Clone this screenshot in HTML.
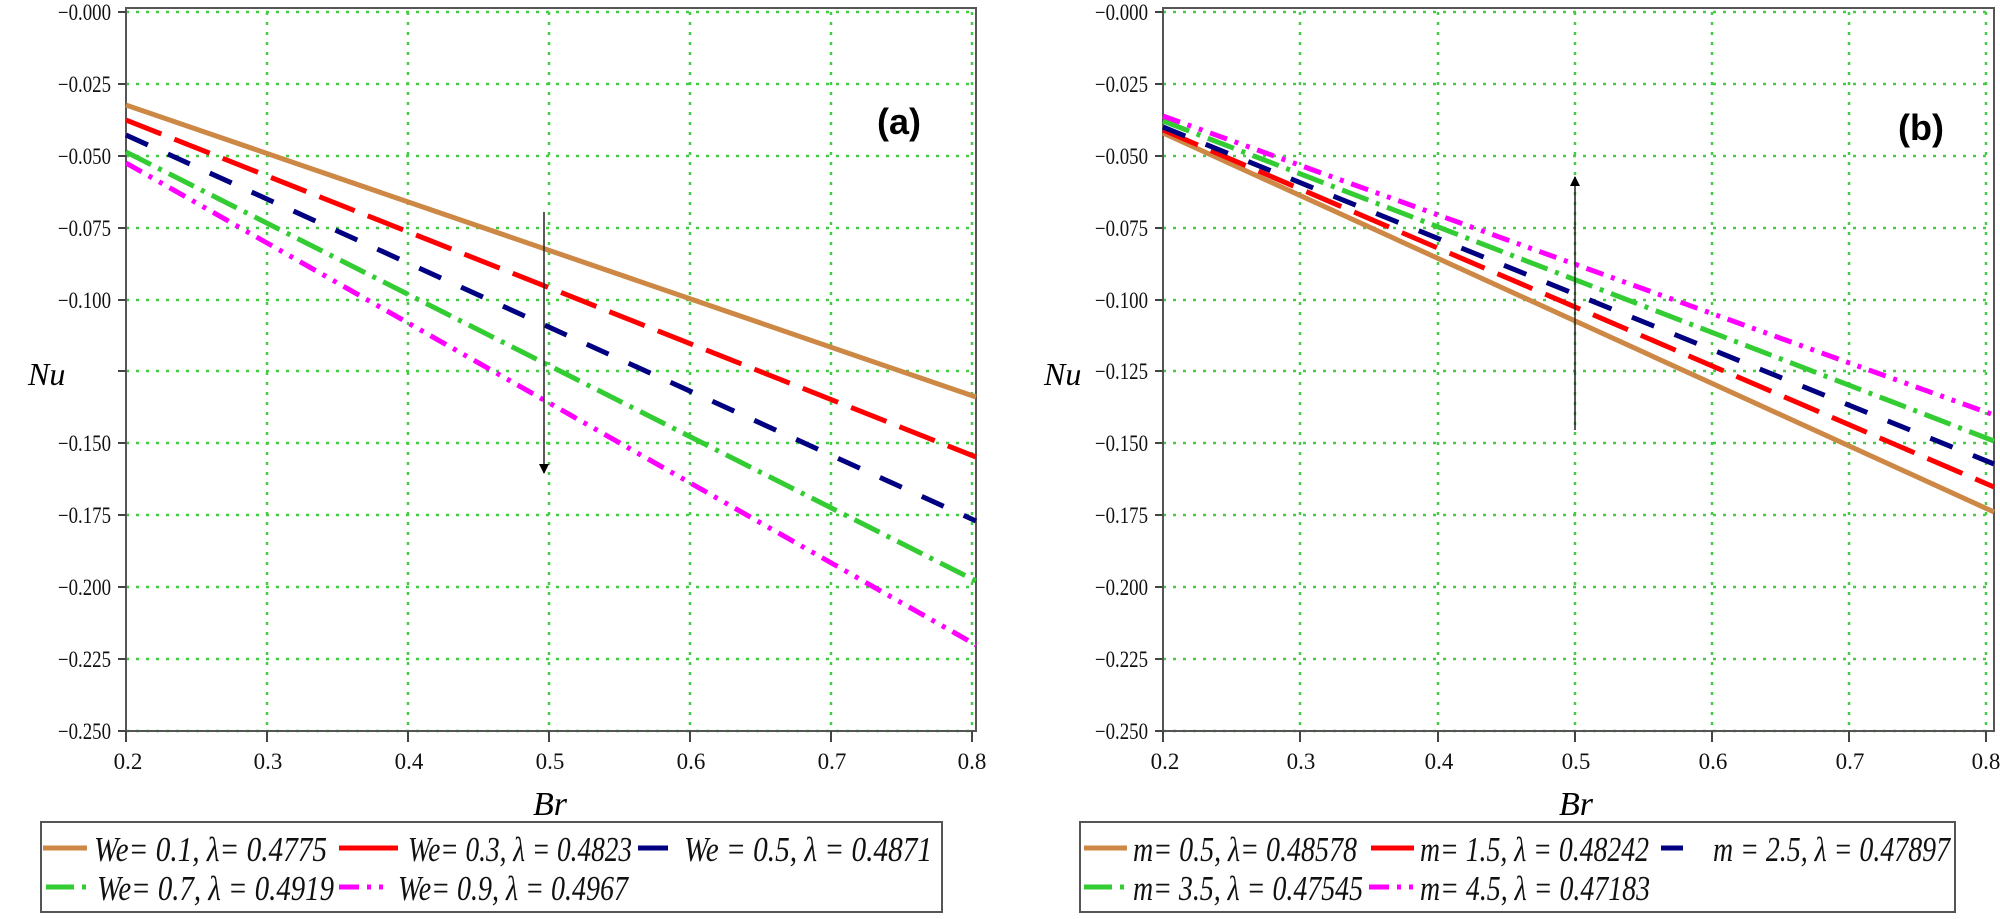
<!DOCTYPE html>
<html><head><meta charset="utf-8"><style>html,body{margin:0;padding:0;background:#fff}svg{display:block}</style></head>
<body>
<svg width="2000" height="919" viewBox="0 0 2000 919" xmlns="http://www.w3.org/2000/svg" font-family="Liberation Serif, serif">
<defs>
<marker id="ah" markerWidth="10" markerHeight="10" refX="9" refY="5" orient="auto" markerUnits="userSpaceOnUse"><path d="M0,0 L10,5 L0,10 z" fill="#000"/></marker>
</defs>
<!-- LEFT PLOT -->
<g stroke="#44cc44" stroke-width="2.5" stroke-dasharray="3 7" fill="none">
<path d="M267,12V731M408,12V731M549,12V731M690,12V731M831,12V731M972,12V731"/>
<path d="M126,12H976M126,84H976M126,156H976M126,228H976M126,300H976M126,371H976M126,443H976M126,515H976M126,587H976M126,659H976M126,731H976"/>
</g>
<rect x="126" y="8" width="850" height="723" fill="none" stroke="#555" stroke-width="2"/>
<g stroke="#444" stroke-width="2">
<path d="M118,12H126M118,84H126M118,156H126M118,228H126M118,300H126M118,371H126M118,443H126M118,515H126M118,587H126M118,659H126M118,731H126"/>
<path d="M126,731V742M267,731V742M408,731V742M549,731V742M690,731V742M831,731V742M972,731V742"/>
</g>
<g font-size="23" text-anchor="end" fill="#111">
<text x="111" y="20" textLength="53" lengthAdjust="spacingAndGlyphs">−0.000</text><text x="111" y="92" textLength="53" lengthAdjust="spacingAndGlyphs">−0.025</text><text x="111" y="164" textLength="53" lengthAdjust="spacingAndGlyphs">−0.050</text><text x="111" y="236" textLength="53" lengthAdjust="spacingAndGlyphs">−0.075</text><text x="111" y="308" textLength="53" lengthAdjust="spacingAndGlyphs">−0.100</text><text x="111" y="451" textLength="53" lengthAdjust="spacingAndGlyphs">−0.150</text><text x="111" y="523" textLength="53" lengthAdjust="spacingAndGlyphs">−0.175</text><text x="111" y="595" textLength="53" lengthAdjust="spacingAndGlyphs">−0.200</text><text x="111" y="667" textLength="53" lengthAdjust="spacingAndGlyphs">−0.225</text><text x="111" y="739" textLength="53" lengthAdjust="spacingAndGlyphs">−0.250</text>
</g>
<g font-size="23" text-anchor="middle" fill="#111">
<text x="128" y="769">0.2</text><text x="268" y="769">0.3</text><text x="409" y="769">0.4</text><text x="550" y="769">0.5</text><text x="691" y="769">0.6</text><text x="832" y="769">0.7</text><text x="972" y="769">0.8</text>
</g>
<text x="550" y="815" font-size="34" font-style="italic" text-anchor="middle">Br</text>
<text x="28" y="385" font-size="32" font-style="italic">Nu</text>
<text x="877" y="134" font-family="Liberation Sans, sans-serif" font-size="36" font-weight="bold">(a)</text>
<g fill="none" stroke-width="5">
<line x1="126" y1="105" x2="976" y2="397" stroke="#cc8844"/>
<line x1="126" y1="120" x2="976" y2="457" stroke="#ff0000" stroke-dasharray="38 14"/>
<line x1="126" y1="135" x2="976" y2="521" stroke="#000080" stroke-dasharray="24 22"/>
<line x1="126" y1="152" x2="976" y2="581" stroke="#33cc33" stroke-dasharray="28 8 4 8"/>
<line x1="126" y1="163" x2="976" y2="645" stroke="#ff00ff" stroke-dasharray="18 8 4 8 4 8"/>
</g>
<line x1="544" y1="212" x2="544" y2="473" stroke="#222" stroke-width="1.5" marker-end="url(#ah)"/>
<!-- RIGHT PLOT -->
<g stroke="#44cc44" stroke-width="2.5" stroke-dasharray="3 7" fill="none">
<path d="M1300,12V731M1438,12V731M1575,12V731M1712,12V731M1849,12V731M1986,12V731"/>
<path d="M1163,12H1994M1163,84H1994M1163,156H1994M1163,228H1994M1163,300H1994M1163,371H1994M1163,443H1994M1163,515H1994M1163,587H1994M1163,659H1994M1163,731H1994"/>
</g>
<rect x="1163" y="8" width="831" height="723" fill="none" stroke="#555" stroke-width="2"/>
<g stroke="#444" stroke-width="2">
<path d="M1155,12H1163M1155,84H1163M1155,156H1163M1155,228H1163M1155,300H1163M1155,371H1163M1155,443H1163M1155,515H1163M1155,587H1163M1155,659H1163M1155,731H1163"/>
<path d="M1163,731V742M1300,731V742M1438,731V742M1575,731V742M1712,731V742M1849,731V742M1986,731V742"/>
</g>
<g font-size="23" text-anchor="end" fill="#111">
<text x="1148" y="20" textLength="53" lengthAdjust="spacingAndGlyphs">−0.000</text><text x="1148" y="92" textLength="53" lengthAdjust="spacingAndGlyphs">−0.025</text><text x="1148" y="164" textLength="53" lengthAdjust="spacingAndGlyphs">−0.050</text><text x="1148" y="236" textLength="53" lengthAdjust="spacingAndGlyphs">−0.075</text><text x="1148" y="308" textLength="53" lengthAdjust="spacingAndGlyphs">−0.100</text><text x="1148" y="379" textLength="53" lengthAdjust="spacingAndGlyphs">−0.125</text><text x="1148" y="451" textLength="53" lengthAdjust="spacingAndGlyphs">−0.150</text><text x="1148" y="523" textLength="53" lengthAdjust="spacingAndGlyphs">−0.175</text><text x="1148" y="595" textLength="53" lengthAdjust="spacingAndGlyphs">−0.200</text><text x="1148" y="667" textLength="53" lengthAdjust="spacingAndGlyphs">−0.225</text><text x="1148" y="739" textLength="53" lengthAdjust="spacingAndGlyphs">−0.250</text>
</g>
<g font-size="23" text-anchor="middle" fill="#111">
<text x="1165" y="769">0.2</text><text x="1301" y="769">0.3</text><text x="1439" y="769">0.4</text><text x="1576" y="769">0.5</text><text x="1713" y="769">0.6</text><text x="1850" y="769">0.7</text><text x="1986" y="769">0.8</text>
</g>
<text x="1576" y="815" font-size="34" font-style="italic" text-anchor="middle">Br</text>
<text x="1044" y="385" font-size="32" font-style="italic">Nu</text>
<text x="1898" y="140" font-family="Liberation Sans, sans-serif" font-size="36" font-weight="bold">(b)</text>
<g fill="none" stroke-width="5">
<line x1="1163" y1="133" x2="1994" y2="512" stroke="#cc8844"/>
<line x1="1163" y1="130" x2="1994" y2="487" stroke="#ff0000" stroke-dasharray="38 14"/>
<line x1="1163" y1="127" x2="1994" y2="464" stroke="#000080" stroke-dasharray="24 22"/>
<line x1="1163" y1="121" x2="1994" y2="441" stroke="#33cc33" stroke-dasharray="28 8 4 8"/>
<line x1="1163" y1="116" x2="1994" y2="415" stroke="#ff00ff" stroke-dasharray="18 8 4 8 4 8"/>
</g>
<line x1="1575" y1="430" x2="1575" y2="177" stroke="#222" stroke-width="1.5" marker-end="url(#ah)"/>
<!-- LEFT LEGEND -->
<rect x="41" y="822" width="901" height="90" fill="none" stroke="#555" stroke-width="2"/>
<g stroke-width="5">
<line x1="43" y1="848" x2="87" y2="848" stroke="#cc8844"/>
<line x1="339" y1="848" x2="398" y2="848" stroke="#ff0000"/>
<line x1="638" y1="848" x2="668" y2="848" stroke="#000080"/>
<line x1="46" y1="887" x2="89" y2="887" stroke="#33cc33" stroke-dasharray="28 8 4 8"/>
<line x1="339" y1="887" x2="388" y2="887" stroke="#ff00ff" stroke-dasharray="20 8 4 8 4 8"/>
</g>
<g font-size="35" font-style="italic" fill="#111">
<text x="94" y="861" textLength="233" lengthAdjust="spacingAndGlyphs">We= 0.1, λ= 0.4775</text>
<text x="408" y="861" textLength="224" lengthAdjust="spacingAndGlyphs">We= 0.3, λ = 0.4823</text>
<text x="684" y="861" textLength="248" lengthAdjust="spacingAndGlyphs">We = 0.5, λ = 0.4871</text>
<text x="97" y="900" textLength="237" lengthAdjust="spacingAndGlyphs">We= 0.7, λ = 0.4919</text>
<text x="398" y="900" textLength="230" lengthAdjust="spacingAndGlyphs">We= 0.9, λ = 0.4967</text>
</g>
<!-- RIGHT LEGEND -->
<rect x="1080" y="822" width="875" height="90" fill="none" stroke="#555" stroke-width="2"/>
<g stroke-width="5">
<line x1="1084" y1="848" x2="1127" y2="848" stroke="#cc8844"/>
<line x1="1371" y1="848" x2="1414" y2="848" stroke="#ff0000"/>
<line x1="1661" y1="848" x2="1683" y2="848" stroke="#000080"/>
<line x1="1084" y1="887" x2="1127" y2="887" stroke="#33cc33" stroke-dasharray="28 8 4 8"/>
<line x1="1369" y1="887" x2="1414" y2="887" stroke="#ff00ff" stroke-dasharray="20 8 4 8 4 8"/>
</g>
<g font-size="35" font-style="italic" fill="#111">
<text x="1133" y="861" textLength="224" lengthAdjust="spacingAndGlyphs">m= 0.5, λ= 0.48578</text>
<text x="1420" y="861" textLength="229" lengthAdjust="spacingAndGlyphs">m= 1.5, λ = 0.48242</text>
<text x="1713" y="861" textLength="237" lengthAdjust="spacingAndGlyphs">m = 2.5, λ = 0.47897</text>
<text x="1133" y="900" textLength="230" lengthAdjust="spacingAndGlyphs">m= 3.5, λ = 0.47545</text>
<text x="1420" y="900" textLength="230" lengthAdjust="spacingAndGlyphs">m= 4.5, λ = 0.47183</text>
</g>
</svg>
</body></html>
